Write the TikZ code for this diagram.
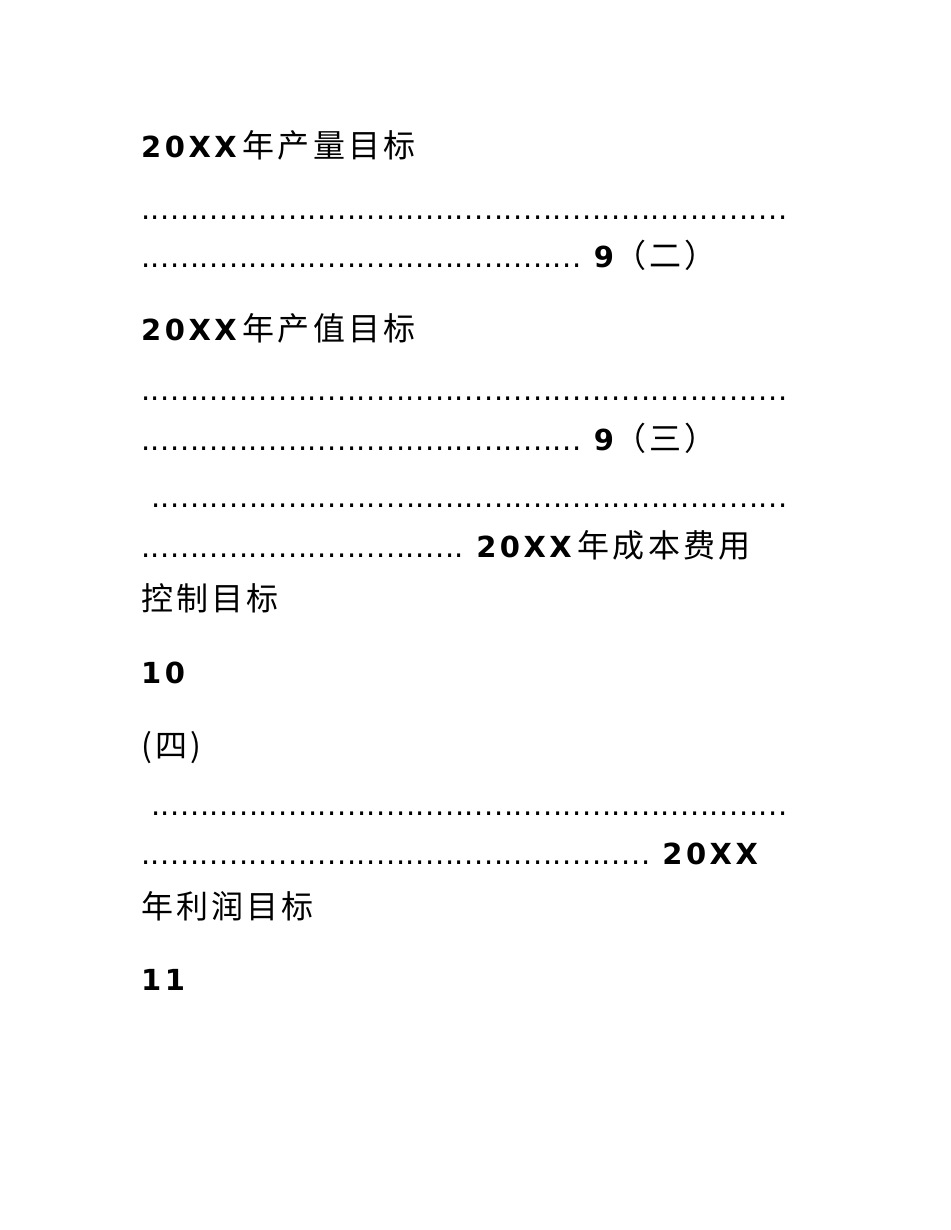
\documentclass[tikz,border=0pt]{standalone}
\usepackage{fontspec}
\setmainfont{DejaVu Sans}
\newfontfamily\cjkf[LetterSpace=10]{Noto Sans CJK SC}
\newcommand\cjk{\fontsize{32}{33}\cjkf}
\newfontfamily\latb[LetterSpace=12]{DejaVu Sans Bold}
\newfontfamily\dotf[LetterSpace=2]{DejaVu Sans}
\usetikzlibrary{positioning}
\newcommand\dotrow[1]{{\dotf\foreach \i in {1,...,#1}{.}}}
\begin{document}
\begin{tikzpicture}[x=1pt,y=-1pt,
    entry/.style={anchor=base west, inner sep=0pt, font=\fontsize{29}{30}\selectfont},
    num/.style={font=\fontsize{29}{30}\latb}]
  \useasboundingbox (0,0) rectangle (950,1230);

  % first target
  \node[entry] (outTitle) at (141,158) {{\latb 20XX}\hspace{6pt}{\cjk 年产量目标}};
  \node[entry] (outDotsA) at (141,220) {\dotrow{66}};
  \node[entry] (outDotsB) at (141,268) {\dotrow{45} {\latb 9}{\cjk（二）}};

  % second target
  \node[entry] (valTitle) at (141,340) {{\latb 20XX}\hspace{6pt}{\cjk 年产值目标}};
  \node[entry] (valDotsA) at (141,400) {\dotrow{66}};
  \node[entry] (valDotsB) at (141,450) {\dotrow{45} {\latb 9}{\cjk（三）}};

  % third target
  \node[entry] (costDotsA) at (151,507) {\dotrow{65}};
  \node[entry] (costDotsB) at (141,557) {\dotrow{33} {\latb 20XX}\hspace{6pt}{\cjk 年成本费用}};
  \node[entry] (costTitle) at (141,610) {\cjk 控制目标};
  \node[entry, num] (costPage) at (141,683) {10};

  % fourth target
  \node[entry] (profHead) at (141,757) {{\cjk (四)}};
  \node[entry] (profDotsA) at (151,815) {\dotrow{65}};
  \node[entry] (profDotsB) at (141,864) {\dotrow{52} {\latb 20XX}};
  \node[entry] (profTitle) at (141,918) {\cjk 年利润目标};
  \node[entry, num] (profPage) at (141,990) {11};
\end{tikzpicture}
\end{document}
